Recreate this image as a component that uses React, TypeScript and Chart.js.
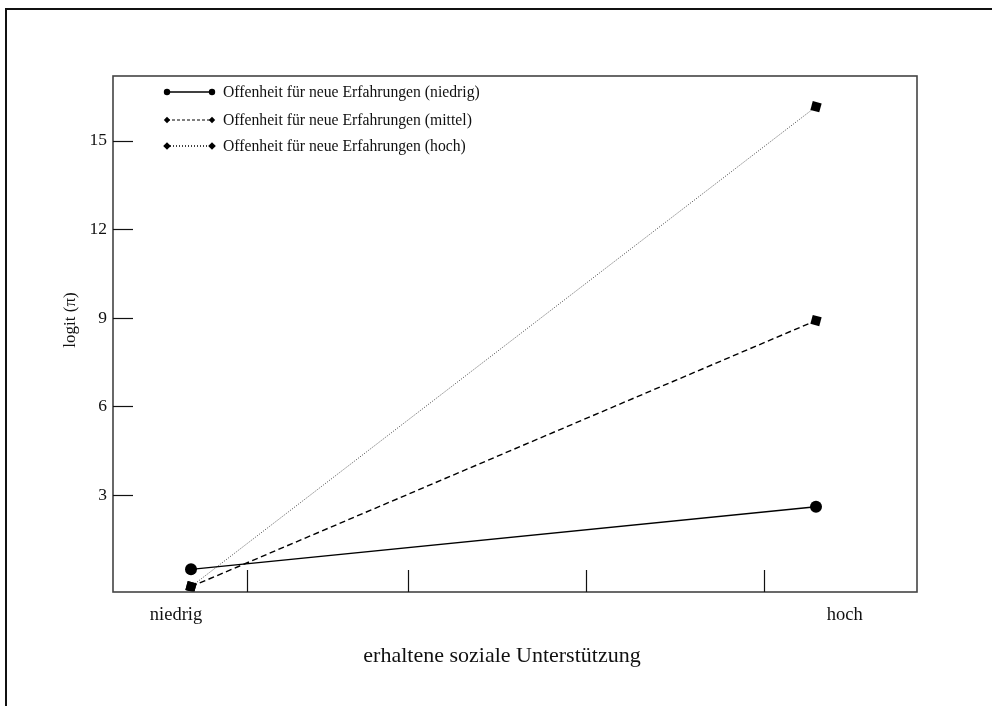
import { useEffect, useRef } from 'react';
import { Chart, registerables } from 'chart.js';

Chart.register(...registerables);

// ---- data ----
const categories = ['niedrig', 'hoch'];
const categoryX = [0, 1];
const seriesNames = [
  'Offenheit für neue Erfahrungen (niedrig)',
  'Offenheit für neue Erfahrungen (mittel)',
  'Offenheit für neue Erfahrungen (hoch)',
];
const lowOpenness = [0.48, 2.6];
const midOpenness = [-0.11, 8.91];
const highOpenness = [-0.11, 16.16];
const yTickValues = [3, 6, 9, 12, 15];
const xTickMarks = [0.09, 0.347, 0.632, 0.917];
const xLabelPositions = [-0.024, 1.046];
const xTitle = 'erhaltene soziale Unterstützung';
const yTitle = 'logit (π)';

const SERIF = '"Liberation Serif", "DejaVu Serif", serif';

const toPoints = (vals: number[]) => vals.map((v, i) => ({ x: categoryX[i], y: v }));

const legendStyles = [
  { dash: [] as number[], width: 1.3, color: '#000', marker: 'circle', size: 3.2 },
  { dash: [3, 2], width: 1, color: '#000', marker: 'diamond', size: 3.2 },
  { dash: [1, 2], width: 1.4, color: '#000', marker: 'diamond', size: 3.8 },
];

function drawMarker(ctx: CanvasRenderingContext2D, kind: string, x: number, y: number, s: number) {
  ctx.beginPath();
  if (kind === 'circle') {
    ctx.arc(x, y, s, 0, Math.PI * 2);
  } else {
    ctx.moveTo(x, y - s);
    ctx.lineTo(x + s, y);
    ctx.lineTo(x, y + s);
    ctx.lineTo(x - s, y);
    ctx.closePath();
  }
  ctx.fillStyle = '#000';
  ctx.fill();
}

const decorPlugin = {
  id: 'decor',
  afterDraw(chart: any) {
    const ctx: CanvasRenderingContext2D = chart.ctx;
    const { left, right, top, bottom } = chart.chartArea;
    const xs = chart.scales.x;
    const ys = chart.scales.y;
    ctx.save();
    // frame
    ctx.strokeStyle = '#444';
    ctx.lineWidth = 1.6;
    ctx.setLineDash([]);
    ctx.strokeRect(left, top, right - left, bottom - top);
    // inward ticks
    ctx.strokeStyle = '#111';
    ctx.lineWidth = 1.2;
    yTickValues.forEach((v) => {
      const py = Math.round(ys.getPixelForValue(v)) + 0.5;
      ctx.beginPath();
      ctx.moveTo(left, py);
      ctx.lineTo(left + 20, py);
      ctx.stroke();
    });
    xTickMarks.forEach((v) => {
      const px = Math.round(xs.getPixelForValue(v)) + 0.5;
      ctx.beginPath();
      ctx.moveTo(px, bottom);
      ctx.lineTo(px, bottom - 22);
      ctx.stroke();
    });
    // legend
    const rows = [92, 120, 146];
    ctx.font = `15.7px ${SERIF}`;
    ctx.textBaseline = 'middle';
    ctx.textAlign = 'left';
    seriesNames.forEach((name, i) => {
      const st = legendStyles[i];
      const y = rows[i];
      ctx.strokeStyle = st.color;
      ctx.lineWidth = st.width;
      ctx.setLineDash(st.dash);
      ctx.beginPath();
      ctx.moveTo(167, y);
      ctx.lineTo(212, y);
      ctx.stroke();
      ctx.setLineDash([]);
      drawMarker(ctx, st.marker, 167, y, st.size);
      drawMarker(ctx, st.marker, 212, y, st.size);
      ctx.fillStyle = '#111';
      ctx.fillText(name, 223, y + 1);
    });
    // axis titles
    ctx.fillStyle = '#111';
    ctx.font = `22px ${SERIF}`;
    ctx.textAlign = 'center';
    ctx.textBaseline = 'middle';
    ctx.fillText(xTitle, 502, 656);
    ctx.font = `17px ${SERIF}`;
    ctx.save();
    ctx.translate(71, 320);
    ctx.rotate(-Math.PI / 2);
    ctx.fillText(yTitle, 0, 0);
    ctx.restore();
    ctx.restore();
  },
};

export default function App() {
  const ref = useRef<HTMLCanvasElement | null>(null);
  useEffect(() => {
    document.body.style.margin = '0';
    document.body.style.overflow = 'hidden';
    document.body.style.background = '#fff';
    const chart = new Chart(ref.current as HTMLCanvasElement, {
      type: 'line',
      data: {
        datasets: [
          {
            label: seriesNames[0],
            data: toPoints(lowOpenness),
            borderColor: '#000',
            borderWidth: 1.3,
            pointStyle: 'circle',
            pointRadius: 6,
            pointBackgroundColor: '#000',
            pointBorderWidth: 0,
            tension: 0,
          },
          {
            label: seriesNames[1],
            data: toPoints(midOpenness),
            borderColor: '#000',
            borderWidth: 1.4,
            borderDash: [6, 3.5],
            pointStyle: 'rect',
            pointRotation: 15,
            pointRadius: 6.5,
            pointBackgroundColor: '#000',
            pointBorderWidth: 0,
            tension: 0,
          },
          {
            label: seriesNames[2],
            data: toPoints(highOpenness),
            borderColor: '#444',
            borderWidth: 1,
            borderDash: [1, 1.6],
            pointStyle: 'rect',
            pointRotation: 15,
            pointRadius: 6.5,
            pointBackgroundColor: '#000',
            pointBorderWidth: 0,
            tension: 0,
          },
        ],
      },
      options: {
        responsive: false,
        animation: false,
        layout: { padding: { top: 76, right: 75, left: 0, bottom: 0 } },
        plugins: { legend: { display: false }, tooltip: { enabled: false } },
        scales: {
          x: {
            type: 'linear',
            min: -0.1248,
            max: 1.1616,
            grid: { display: false, drawTicks: false },
            border: { display: false },
            afterBuildTicks: (axis: any) => {
              axis.ticks = xLabelPositions.map((v) => ({ value: v }));
            },
            afterFit: (axis: any) => {
              axis.height = 114;
            },
            ticks: {
              padding: 12,
              color: '#111',
              font: { family: SERIF, size: 18.5 },
              maxRotation: 0,
              autoSkip: false,
              callback: (v: any) => {
                const i = xLabelPositions.indexOf(Number(v));
                return i >= 0 ? categories[i] : '';
              },
            },
          },
          y: {
            type: 'linear',
            min: -0.29,
            max: 17.2,
            grid: { display: false, drawTicks: false },
            border: { display: false },
            afterBuildTicks: (axis: any) => {
              axis.ticks = yTickValues.map((v) => ({ value: v }));
            },
            afterFit: (axis: any) => {
              axis.width = 113;
            },
            ticks: {
              padding: 6,
              color: '#111',
              font: { family: SERIF, size: 17.5 },
              callback: (v: any) => String(v),
            },
          },
        },
      },
      plugins: [decorPlugin],
    } as any);
    return () => chart.destroy();
  }, []);
  return (
    <div style={{ position: 'fixed', left: 0, top: 0, width: 992, height: 706, overflow: 'hidden', background: '#fff' }}>
      <div
        style={{
          position: 'absolute',
          left: 5,
          top: 8,
          width: 1010,
          height: 720,
          border: '2px solid #111',
          boxSizing: 'border-box',
        }}
      />
      <canvas ref={ref} width={992} height={706} style={{ position: 'absolute', left: 0, top: 0 }} />
    </div>
  );
}
